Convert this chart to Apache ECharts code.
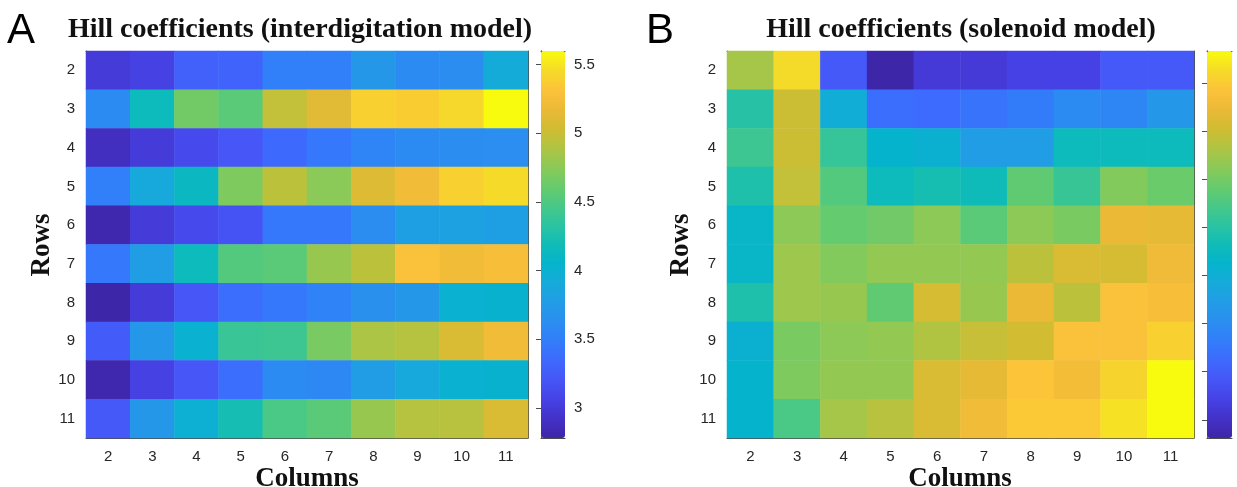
<!DOCTYPE html>
<html>
<head>
<meta charset="utf-8">
<script src="https://cdn.jsdelivr.net/npm/echarts@6/dist/echarts.min.js"></script>
<style>
  html, body { margin: 0; padding: 0; background: #fff; }
  #chart { width: 1237px; height: 487px; }
</style>
</head>
<body>
<div id="chart"></div>
<script>
// row / column labels (grid positions 2..11)
const rowLabels = ['2', '3', '4', '5', '6', '7', '8', '9', '10', '11']
const colLabels = ['2', '3', '4', '5', '6', '7', '8', '9', '10', '11']

// Hill coefficients, interdigitation model (one array per row, columns 2..11)
const interRow2 = [3.00, 3.05, 3.28, 3.30, 3.50, 3.50, 3.72, 3.60, 3.62, 3.92]
const interRow3 = [3.60, 4.15, 4.65, 4.55, 4.98, 5.12, 5.40, 5.38, 5.43, 5.60]
const interRow4 = [2.88, 3.00, 3.12, 3.20, 3.35, 3.45, 3.55, 3.60, 3.62, 3.63]
const interRow5 = [3.50, 3.90, 4.12, 4.70, 4.95, 4.75, 5.10, 5.22, 5.40, 5.45]
const interRow6 = [2.80, 3.00, 3.12, 3.18, 3.45, 3.45, 3.62, 3.80, 3.82, 3.80]
const interRow7 = [3.45, 3.78, 4.15, 4.52, 4.55, 4.80, 4.95, 5.30, 5.22, 5.27]
const interRow8 = [2.78, 3.00, 3.20, 3.38, 3.45, 3.53, 3.65, 3.72, 4.00, 4.02]
const interRow9 = [3.25, 3.72, 4.00, 4.40, 4.42, 4.68, 4.88, 4.92, 5.08, 5.22]
const interRow10 = [2.80, 3.05, 3.20, 3.38, 3.60, 3.58, 3.78, 3.90, 4.00, 4.02]
const interRow11 = [3.22, 3.72, 3.98, 4.22, 4.48, 4.55, 4.80, 4.92, 4.93, 5.08]

// Hill coefficients, solenoid model
const solRow2 = [4.77, 5.63, 2.44, 1.81, 2.12, 2.12, 2.20, 2.20, 2.44, 2.44]
const solRow3 = [4.00, 5.01, 3.48, 2.67, 2.64, 2.72, 2.81, 2.98, 2.92, 3.15]
const solRow4 = [4.15, 5.01, 4.10, 3.62, 3.55, 3.24, 3.24, 3.77, 3.77, 3.77]
const solRow5 = [3.94, 4.95, 4.30, 3.77, 3.87, 3.81, 4.38, 4.12, 4.58, 4.44]
const solRow6 = [3.67, 4.63, 4.41, 4.48, 4.63, 4.34, 4.63, 4.53, 5.24, 5.20]
const solRow7 = [3.67, 4.73, 4.58, 4.67, 4.67, 4.67, 4.91, 5.10, 5.07, 5.27]
const solRow8 = [3.94, 4.73, 4.70, 4.38, 5.07, 4.70, 5.24, 4.91, 5.41, 5.37]
const solRow9 = [3.55, 4.53, 4.63, 4.67, 4.84, 4.98, 5.05, 5.41, 5.41, 5.55]
const solRow10 = [3.62, 4.55, 4.67, 4.67, 5.10, 5.20, 5.45, 5.32, 5.58, 5.84]
const solRow11 = [3.62, 4.24, 4.77, 4.88, 5.10, 5.30, 5.48, 5.48, 5.67, 5.84]

// colour scale limits and colorbar ticks
const interRange = [2.78, 5.6]
const interTicks = [3, 3.5, 4, 4.5, 5, 5.5]
const solRange = [1.81, 5.84]
const solTicks = [2, 2.5, 3, 3.5, 4, 4.5, 5, 5.5]

const interRows = [interRow2, interRow3, interRow4, interRow5, interRow6, interRow7, interRow8, interRow9, interRow10, interRow11]
const solRows = [solRow2, solRow3, solRow4, solRow5, solRow6, solRow7, solRow8, solRow9, solRow10, solRow11]

// parula-like colormap
const parula = [
  '#3e26a8', '#4331c8', '#4642e6', '#4656f7', '#3e69fd', '#327dfa', '#2b8ef0',
  '#229ce6', '#16aada', '#05b4cc', '#10bcb6', '#2bc3a2', '#48c887', '#68cb6c',
  '#8cc957', '#b0c443', '#d0bd32', '#ecb937', '#fcc23a', '#f5dc28', '#f9fb0e'
]

function toCells (rows) {
  const out = []
  rows.forEach((row, r) => {
    row.forEach((v, c) => { out.push([c, r, v]) })
  })
  return out
}

const tickFont = { color: '#262626', fontSize: 15, fontFamily: 'Liberation Sans' }
const nameFontCss = 'bold 27px "Liberation Serif"'
const lineStyle = { color: '#4d4d4d', width: 1 }

function boxAxes (gridIndex) {
  // bottom / top x axes, left / right y axes (MATLAB style box with inner ticks)
  const xs = [
    { type: 'category', gridIndex, data: colLabels, position: 'bottom',
      axisLine: { lineStyle }, axisTick: { inside: true, alignWithLabel: true, length: 5, lineStyle },
      axisLabel: Object.assign({ margin: 11 }, tickFont), splitLine: { show: false } },
    { type: 'category', gridIndex, data: colLabels, position: 'top',
      axisLine: { lineStyle }, axisTick: { inside: true, alignWithLabel: true, length: 5, lineStyle },
      axisLabel: { show: false }, splitLine: { show: false } }
  ]
  const ys = [
    { type: 'category', gridIndex, data: rowLabels, inverse: true, position: 'left',
      axisLine: { lineStyle }, axisTick: { inside: true, alignWithLabel: true, length: 5, lineStyle },
      axisLabel: Object.assign({ margin: 11 }, tickFont), splitLine: { show: false } },
    { type: 'category', gridIndex, data: rowLabels, inverse: true, position: 'right',
      axisLine: { lineStyle }, axisTick: { inside: true, alignWithLabel: true, length: 5, lineStyle },
      axisLabel: { show: false }, splitLine: { show: false } }
  ]
  return { xs, ys }
}

function barAxes (gridIndex, range, ticks, showLabels) {
  const xs = [
    { type: 'value', gridIndex, min: 0, max: 1, position: 'bottom', axisLine: { lineStyle },
      axisTick: { show: false }, axisLabel: { show: false }, splitLine: { show: false } },
    { type: 'value', gridIndex, min: 0, max: 1, position: 'top', axisLine: { lineStyle },
      axisTick: { show: false }, axisLabel: { show: false }, splitLine: { show: false } }
  ]
  const ys = [
    { type: 'value', gridIndex, min: range[0], max: range[1], position: 'right',
      axisLine: { show: true, lineStyle },
      axisTick: { show: true, inside: true, length: 5, lineStyle, customValues: ticks },
      axisLabel: Object.assign({ show: showLabels, margin: 9, customValues: ticks }, tickFont),
      splitLine: { show: false } },
    { type: 'value', gridIndex, min: range[0], max: range[1], position: 'left',
      axisLine: { show: true, lineStyle }, axisTick: { show: false },
      axisLabel: { show: false }, splitLine: { show: false } }
  ]
  return { xs, ys }
}

const a = boxAxes(0)
const aBar = barAxes(1, interRange, interTicks, true)
const b = boxAxes(2)
const bBar = barAxes(3, solRange, solTicks, false)

// titles and axis names
function label (text, x, y, font, rotation) {
  return { type: 'text', x, y, rotation: rotation || 0,
    style: { text, font, fill: '#111', textAlign: 'center', textVerticalAlign: 'middle' } }
}

const chart = echarts.init(document.getElementById('chart'))
chart.setOption({
  animation: false,
  backgroundColor: '#fff',
  grid: [
    { left: 86, top: 51, width: 442, height: 387, outerBoundsMode: 'none', containLabel: false },
    { left: 541, top: 51, width: 24, height: 387, outerBoundsMode: 'none', containLabel: false },
    { left: 727, top: 51, width: 467, height: 387, outerBoundsMode: 'none', containLabel: false },
    { left: 1207, top: 51, width: 25, height: 387, outerBoundsMode: 'none', containLabel: false }
  ],
  xAxis: [].concat(a.xs, aBar.xs, b.xs, bBar.xs),
  yAxis: [].concat(a.ys, aBar.ys, b.ys, bBar.ys),
  visualMap: [
    { type: 'continuous', seriesIndex: 0, min: interRange[0], max: interRange[1],
      inRange: { color: parula }, calculable: false, left: 541, top: 51, padding: 0,
      itemWidth: 24, itemHeight: 387, text: null, showLabel: false },
    { type: 'continuous', seriesIndex: 1, min: solRange[0], max: solRange[1],
      inRange: { color: parula }, calculable: false, left: 1207, top: 51, padding: 0,
      itemWidth: 25, itemHeight: 387, text: null, showLabel: false }
  ],
  graphic: [
    { type: 'text', x: 7, y: 10, style: { text: 'A', font: '42px "Liberation Sans"', fill: '#000' } },
    { type: 'text', x: 646, y: 10, style: { text: 'B', font: '42px "Liberation Sans"', fill: '#000' } },
    label('Hill coefficients (interdigitation model)', 300, 30, 'bold 28px "Liberation Serif"'),
    label('Hill coefficients (solenoid model)', 961, 30, 'bold 28px "Liberation Serif"'),
    label('Columns', 307, 479, nameFontCss),
    label('Columns', 960, 479, nameFontCss),
    label('Rows', 42, 245, nameFontCss, Math.PI / 2),
    label('Rows', 681, 245, nameFontCss, Math.PI / 2)
  ],
  series: [
    { type: 'heatmap', xAxisIndex: 0, yAxisIndex: 0, data: toCells(interRows),
      itemStyle: { borderWidth: 0 }, emphasis: { disabled: true }, z: 1 },
    { type: 'heatmap', xAxisIndex: 4, yAxisIndex: 4, data: toCells(solRows),
      itemStyle: { borderWidth: 0 }, emphasis: { disabled: true }, z: 1 }
  ]
})
</script>
</body>
</html>
